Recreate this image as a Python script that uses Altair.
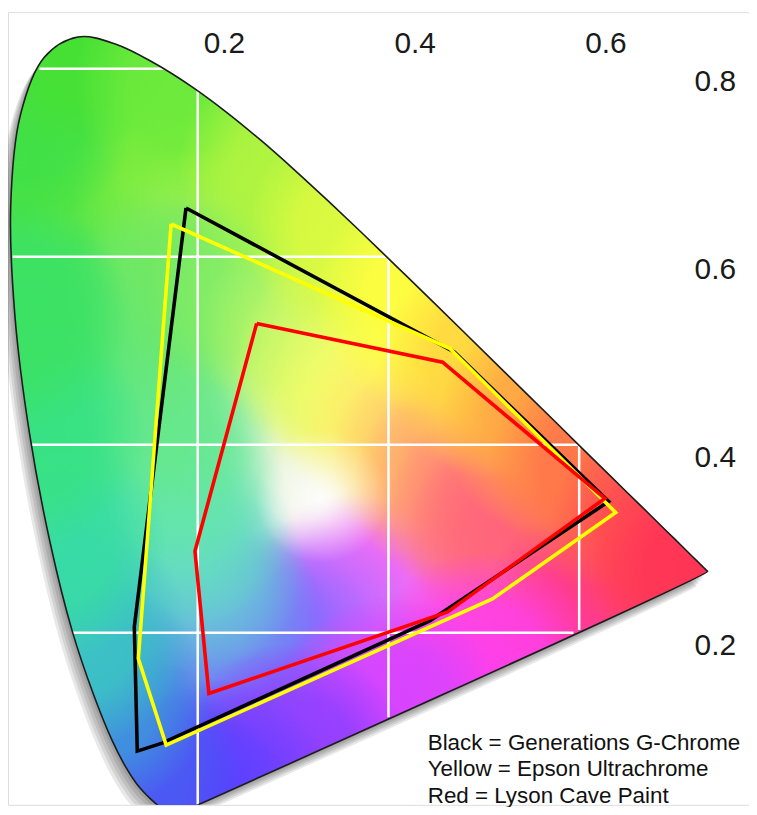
import altair as alt
import pandas as pd

# CIE 1931 spectral locus (chromaticity x, y), 380-700 nm
locus_x = [0.1741, 0.1740, 0.1738, 0.1736, 0.1733, 0.1730, 0.1726, 0.1721, 0.1714, 0.1703,
           0.1689, 0.1669, 0.1644, 0.1611, 0.1566, 0.1510, 0.1440, 0.1355, 0.1241, 0.1096,
           0.0913, 0.0687, 0.0454, 0.0235, 0.0082, 0.0039, 0.0139, 0.0389, 0.0743, 0.1142,
           0.1547, 0.1929, 0.2296, 0.2658, 0.3016, 0.3373, 0.3731, 0.4087, 0.4441, 0.4788,
           0.5125, 0.5448, 0.5752, 0.6029, 0.6270, 0.6482, 0.6658, 0.6801, 0.6915, 0.7006,
           0.7079, 0.7140, 0.7190, 0.7230, 0.7260, 0.7283, 0.7300, 0.7311, 0.7320, 0.7334,
           0.7344, 0.7347]
locus_y = [0.0050, 0.0050, 0.0049, 0.0049, 0.0048, 0.0048, 0.0048, 0.0048, 0.0051, 0.0058,
           0.0069, 0.0086, 0.0109, 0.0138, 0.0177, 0.0227, 0.0297, 0.0399, 0.0578, 0.0868,
           0.1327, 0.2007, 0.2950, 0.4127, 0.5384, 0.6548, 0.7502, 0.8120, 0.8338, 0.8262,
           0.8059, 0.7816, 0.7543, 0.7243, 0.6923, 0.6589, 0.6245, 0.5896, 0.5547, 0.5202,
           0.4866, 0.4544, 0.4242, 0.3965, 0.3725, 0.3514, 0.3340, 0.3197, 0.3083, 0.2993,
           0.2920, 0.2859, 0.2809, 0.2770, 0.2740, 0.2717, 0.2700, 0.2689, 0.2680, 0.2666,
           0.2656, 0.2653]

# Gamut polygons
black_x = [0.1877, 0.4694, 0.6310, 0.4433, 0.1627, 0.1366, 0.1335]
black_y = [0.6519, 0.4984, 0.3397, 0.2127, 0.0825, 0.0741, 0.2063]
yellow_x = [0.1721, 0.4641, 0.6383, 0.5090, 0.1669, 0.1377]
yellow_y = [0.6349, 0.5026, 0.3280, 0.2360, 0.0804, 0.1725]
red_x = [0.2618, 0.4568, 0.6269, 0.4621, 0.2117, 0.1971]
red_y = [0.5291, 0.4878, 0.3429, 0.2222, 0.1354, 0.2868]

# ticks and grid
x_ticks = [0.2, 0.4, 0.6]
y_ticks = [0.2, 0.4, 0.6, 0.8]
x_tick_labels = ["0.2", "0.4", "0.6"]
y_tick_labels = ["0.2", "0.4", "0.6", "0.8"]

# parts of grid lines lying inside the diagram (drawn white there)
vgrid_x = [0.2, 0.4, 0.6]
vgrid_lo = [0.017, 0.110, 0.203]
vgrid_hi = [0.776, 0.598, 0.399]
hgrid_y = [0.2, 0.4, 0.6, 0.8]
hgrid_lo = [0.069, 0.026, 0.006, 0.034]
hgrid_hi = [0.594, 0.599, 0.398, 0.164]

legend_lines = ["Black = Generations G-Chrome",
                "Yellow = Epson Ultrachrome",
                "Red = Lyson Cave Paint"]

# ---- style: colour anchors of the diagram fill (position in x,y, colour) ----
fill_anchors = [
    (0.62, 0.218, "#ff3a90"),
    (0.50, 0.162, "#ff40e8"),
    (0.40, 0.116, "#d844ff"),
    (0.30, 0.065, "#9040ff"),
    (0.22, 0.027, "#6a40ff"),
    (0.172, 0.012, "#5640ff"),
    (0.124, 0.058, "#4a5cf2"),
    (0.091, 0.133, "#3f96dc"),
    (0.069, 0.200, "#3cc4c4"),
    (0.045, 0.295, "#38dca4"),
    (0.0235, 0.413, "#38e284"),
    (0.008, 0.538, "#3ce264"),
    (0.014, 0.750, "#40e048"),
    (0.074, 0.834, "#46e034"),
    (0.193, 0.782, "#6cea3c"),
    (0.302, 0.692, "#aef440"),
    (0.373, 0.625, "#dcfa40"),
    (0.444, 0.555, "#fffe40"),
    (0.5125, 0.487, "#ffd640"),
    (0.575, 0.424, "#ffa444"),
    (0.627, 0.3725, "#ff744a"),
    (0.6915, 0.308, "#ff4a52"),
    (0.7347, 0.2653, "#ff3456"),
]
WHITE_PT = (0.33, 0.345)
BIG_R, BIG_STOPS = 0.29, ((0, 1.0), (0.4, 0.8), (1, 0.0))
INNER_R, INNER_STOPS, INNER_MIX = 0.14, ((0, 0.9), (0.5, 0.62), (1, 0.0)), 0.22
OUTER_R, OUTER_STOPS = 0.15, ((0, 1.0), (0.55, 0.85), (1, 0.0))
WHITE_R, WHITE_STOPS = 0.085, ((0, 0.85), (0.45, 0.45), (1, 0.0))

W, H = 745, 797
X_DOM = [0.00104, 0.7781]
Y_DOM = [0.0169, 0.8603]
GRID_GRAY = "#a3a3a3"

PXX = W / (X_DOM[1] - X_DOM[0])
PXY = H / (Y_DOM[1] - Y_DOM[0])
xmin, xmax = min(locus_x), max(locus_x)
ymin, ymax = min(locus_y), max(locus_y)
bw = (xmax - xmin) * PXX
bh = (ymax - ymin) * PXY
S = max(bw, bh)


def to_uv(x, y):
    u = ((x - xmin) * PXX + (S - bw) / 2) / S
    v = ((ymax - y) * PXY + (S - bh) / 2) / S
    return u, v


def rgb(h):
    h = h.lstrip("#")
    return int(h[0:2], 16), int(h[2:4], 16), int(h[4:6], 16)


def rgba(c, a):
    r, g, b = c
    return f"rgba({int(round(r))},{int(round(g))},{int(round(b))},{a})"


def radial(x, y, r, c, stops):
    u, v = to_uv(x, y)
    return {"gradient": "radial", "x1": u, "y1": v, "r1": 0,
            "x2": u, "y2": v, "r2": r,
            "stops": [{"offset": o, "color": rgba(c, a)} for o, a in stops]}


def poly_df(xs, ys):
    xs2 = list(xs) + [xs[0]]
    ys2 = list(ys) + [ys[0]]
    return pd.DataFrame({"x": xs2, "y": ys2, "o": list(range(len(xs2)))})


locus_df = poly_df(locus_x, locus_y)

xs = alt.Scale(domain=X_DOM, nice=False, zero=False)
ys = alt.Scale(domain=Y_DOM, nice=False, zero=False)


def enc(chart, xf="x", yf="y", axis=False):
    if axis:
        ax = alt.Axis(values=x_ticks, grid=True, labels=False, ticks=False, domain=False,
                      title=None, gridColor=GRID_GRAY, gridWidth=2)
        ay = alt.Axis(values=y_ticks, grid=True, labels=False, ticks=False, domain=False,
                      title=None, gridColor=GRID_GRAY, gridWidth=2)
    else:
        ax = None
        ay = None
    return chart.encode(
        x=alt.X(f"{xf}:Q", scale=xs, axis=ax),
        y=alt.Y(f"{yf}:Q", scale=ys, axis=ay),
        order=alt.Order("o:Q"),
    )


base_grad = {"gradient": "linear", "x1": 0, "y1": 0, "x2": 0, "y2": 1,
             "stops": [{"offset": 0.0, "color": "#8cec7c"},
                       {"offset": 0.45, "color": "#dcf6c0"},
                       {"offset": 0.62, "color": "#f4f2ea"},
                       {"offset": 0.8, "color": "#e4d4f4"},
                       {"offset": 1.0, "color": "#b8a8ff"}]}

grads = [base_grad]
for ax_, ay_, c in fill_anchors:
    grads.append(radial(ax_, ay_, BIG_R, rgb(c), BIG_STOPS))
for ax_, ay_, c in fill_anchors:
    ix = WHITE_PT[0] + 0.5 * (ax_ - WHITE_PT[0])
    iy = WHITE_PT[1] + 0.5 * (ay_ - WHITE_PT[1])
    pc = tuple(ch * (1 - INNER_MIX) + 255 * INNER_MIX for ch in rgb(c))
    grads.append(radial(ix, iy, INNER_R, pc, INNER_STOPS))
for ax_, ay_, c in fill_anchors:
    grads.append(radial(ax_, ay_, OUTER_R, rgb(c), OUTER_STOPS))
grads.append(radial(WHITE_PT[0], WHITE_PT[1], WHITE_R, (255, 255, 255), WHITE_STOPS))

INTERP = "catmull-rom"
layers = []

# gray grid (axis) with invisible carrier
layers.append(enc(alt.Chart(locus_df).mark_line(opacity=0), axis=True))

# drop shadow
for k in range(1, 6):
    sh = alt.Chart(locus_df).transform_calculate(
        sx=f"datum.x - {k * 2.2 / PXX}", sy=f"datum.y - {k * 3.0 / PXY}"
    ).mark_line(fill="#000000", fillOpacity=0.09, stroke="transparent", clip=True,
                interpolate=INTERP)
    layers.append(enc(sh, xf="sx", yf="sy"))

# colour fill
for g in grads:
    layers.append(enc(alt.Chart(locus_df).mark_line(fill=g, stroke="transparent",
                                                    clip=True, interpolate=INTERP)))

# white grid inside the diagram
vg = pd.DataFrame({"gx": vgrid_x, "lo": vgrid_lo, "hi": vgrid_hi})
hg = pd.DataFrame({"gy": hgrid_y, "lo": hgrid_lo, "hi": hgrid_hi})
layers.append(alt.Chart(vg).mark_rule(color="white", strokeWidth=2.5).encode(
    x=alt.X("gx:Q", scale=xs, axis=None), y=alt.Y("lo:Q", scale=ys, axis=None), y2="hi:Q"))
layers.append(alt.Chart(hg).mark_rule(color="white", strokeWidth=2.5).encode(
    y=alt.Y("gy:Q", scale=ys, axis=None), x=alt.X("lo:Q", scale=xs, axis=None), x2="hi:Q"))

# locus outline
layers.append(enc(alt.Chart(locus_df).mark_line(color="#1c1c1c", strokeWidth=1.6, clip=True,
                                                interpolate=INTERP)))

# gamut polygons
for gx, gy, col in [(black_x, black_y, "#000000"), (yellow_x, yellow_y, "#ffff00"),
                    (red_x, red_y, "#ff0000")]:
    layers.append(enc(alt.Chart(poly_df(gx, gy)).mark_line(
        color=col, strokeWidth=3.6, strokeJoin="miter", clip=True)))

# tick labels inside the plot
xl = pd.DataFrame({"t": x_tick_labels, "x": x_ticks, "y": [max(y_ticks)] * len(x_ticks)})
yl = pd.DataFrame({"t": y_tick_labels, "y": y_ticks, "x": [X_DOM[1]] * len(y_ticks)})
layers.append(alt.Chart(xl).mark_text(
    align="left", baseline="middle", dx=6, dy=-25, fontSize=30,
    font="Liberation Sans", color="#1a1a1a").encode(
    x=alt.X("x:Q", scale=xs, axis=None), y=alt.Y("y:Q", scale=ys, axis=None), text="t:N"))
layers.append(alt.Chart(yl).mark_text(
    align="right", baseline="middle", dx=-13, dy=13, fontSize=30,
    font="Liberation Sans", color="#1a1a1a").encode(
    x=alt.X("x:Q", scale=xs, axis=None), y=alt.Y("y:Q", scale=ys, axis=None), text="t:N"))

# legend text
leg = pd.DataFrame({"t": ["\n".join(legend_lines)]})
layers.append(alt.Chart(leg).mark_text(
    align="left", baseline="top", fontSize=22.5, lineHeight=26.5, lineBreak="\n",
    font="Liberation Sans", color="#111111").encode(
    x=alt.value(422), y=alt.value(724), text="t:N"))

chart = alt.layer(*layers).properties(
    width=W, height=H,
    autosize=alt.AutoSizeParams(type="none"),
    padding={"left": 0, "top": 2, "right": 0, "bottom": 0},
).configure_view(stroke=GRID_GRAY, strokeWidth=2).configure(background="white")

chart.save("out.html", embed_options={"renderer": "svg", "actions": False})
